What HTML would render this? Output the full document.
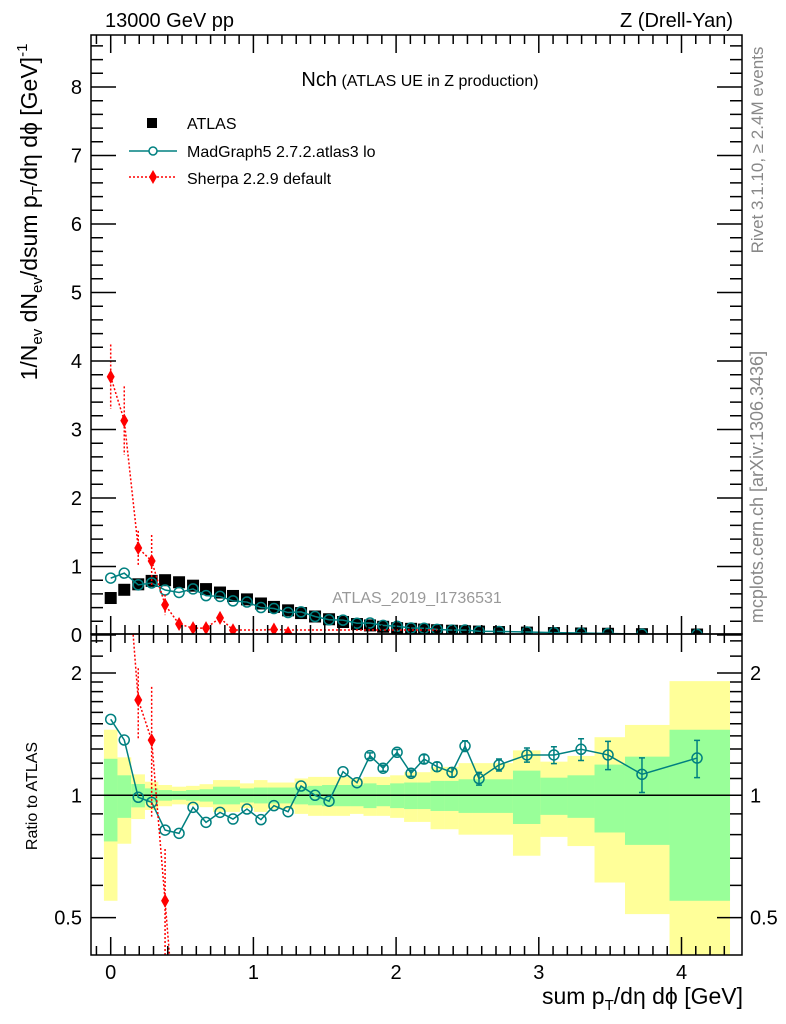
<!DOCTYPE html>
<html><head><meta charset="utf-8"><style>
html,body{margin:0;padding:0;background:#fff;overflow:hidden;width:786px;height:1024px;}
svg{display:block;font-family:"Liberation Sans",sans-serif;}
</style></head><body>
<svg id="c" width="786" height="1024" viewBox="0 0 786 1024" xmlns="http://www.w3.org/2000/svg">
<text x="105" y="27" font-size="20">13000 GeV pp</text>
<text x="733" y="27" font-size="20" text-anchor="end">Z (Drell-Yan)</text>
<text x="420" y="86" text-anchor="middle"><tspan font-size="20">Nch</tspan><tspan font-size="16"> (ATLAS UE in Z production)</tspan></text>
<text x="417" y="603" font-size="16" fill="#999" text-anchor="middle">ATLAS_2019_I1736531</text>
<text transform="translate(763,150) rotate(-90)" font-size="17" fill="#888" text-anchor="middle">Rivet 3.1.10, ≥ 2.4M events</text>
<text transform="translate(763,487) rotate(-90)" font-size="18" fill="#888" text-anchor="middle">mcplots.cern.ch [arXiv:1306.3436]</text>
<text transform="translate(37,212) rotate(-90)" font-size="23" text-anchor="middle">1/N<tspan font-size="15" dy="5">ev</tspan><tspan dy="-5"> dN</tspan><tspan font-size="15" dy="5">ev</tspan><tspan dy="-5">/dsum p</tspan><tspan font-size="15" dy="5">T</tspan><tspan dy="-5">/dη dϕ  [GeV]</tspan><tspan font-size="15" dy="-10">-1</tspan></text>
<text transform="translate(37,796) rotate(-90)" font-size="16" text-anchor="middle">Ratio to ATLAS</text>
<text x="743" y="1004" font-size="23" text-anchor="end">sum p<tspan font-size="15" dy="6">T</tspan><tspan dy="-6">/dη dϕ [GeV]</tspan></text>
<g>
<rect x="147" y="118" width="10" height="10" fill="#000"/>
<text x="187" y="129" font-size="16">ATLAS</text>
<line x1="129" y1="151" x2="177" y2="151" stroke="#008080" stroke-width="1.5"/>
<circle cx="153" cy="151" r="4" fill="#fff" stroke="#008080" stroke-width="1.5"/>
<text x="187" y="157" font-size="16">MadGraph5 2.7.2.atlas3 lo</text>
<line x1="129" y1="177" x2="177" y2="177" stroke="red" stroke-width="1.5" stroke-dasharray="2,2"/>
<path d="M153 170 L157 177 L153 184 L149 177 Z" fill="red"/>
<text x="187" y="184" font-size="16">Sherpa 2.2.9 default</text>
</g>
<g id="g"></g>
</svg>
<script>
const xVals=[0,0.095,0.193,0.287,0.381,0.479,0.577,0.668,0.766,0.857,0.955,1.053,1.144,1.243,1.334,1.432,1.530,1.628,1.726,1.817,1.909,2.007,2.105,2.196,2.287,2.392,2.483,2.581,2.721,2.917,3.106,3.296,3.485,3.723,4.109];
const atlasVals=[0.54,0.66,0.74,0.79,0.80,0.77,0.72,0.67,0.62,0.57,0.52,0.46,0.41,0.36,0.32,0.27,0.23,0.19,0.16,0.14,0.12,0.10,0.09,0.08,0.07,0.062,0.055,0.05,0.043,0.035,0.028,0.022,0.018,0.012,0.007];
const greenErr=[0.23,0.12,0.066,0.04,0.03,0.025,0.03,0.035,0.05,0.05,0.04,0.045,0.045,0.045,0.05,0.055,0.06,0.06,0.06,0.07,0.06,0.07,0.075,0.075,0.085,0.085,0.095,0.095,0.095,0.15,0.105,0.12,0.19,0.245,0.45];
const yellowErr=[0.45,0.24,0.126,0.08,0.06,0.05,0.055,0.065,0.09,0.09,0.07,0.09,0.075,0.075,0.10,0.11,0.11,0.11,0.10,0.11,0.11,0.12,0.14,0.14,0.175,0.175,0.2,0.2,0.2,0.29,0.21,0.25,0.39,0.49,0.91];
const mgRatio=[1.538,1.368,0.989,0.961,0.821,0.806,0.934,0.858,0.908,0.874,0.925,0.871,0.943,0.911,1.054,1.0,0.967,1.143,1.074,1.252,1.166,1.276,1.133,1.228,1.176,1.139,1.322,1.099,1.188,1.257,1.257,1.298,1.257,1.126,1.235];
const mgRatioErr=[0.01,0.01,0.01,0.01,0.01,0.01,0.01,0.01,0.01,0.01,0.01,0.01,0.01,0.01,0.01,0.01,0.01,0.01,0.01,0.02,0.02,0.02,0.02,0.03,0.03,0.03,0.04,0.04,0.04,0.05,0.06,0.08,0.1,0.11,0.13];
const sherpaVals=[3.77,3.13,1.27,1.08,0.44,0.16,0.10,0.10,0.25,0.07,0,0,0.08,0.03,0,0,0,0,0,0,0,0,0,0,0];
const sherpaErr=[0.47,0.5,0.25,0.38,0.15,0.05,0.03,0.03,0.08,0.03,0,0,0.04,0.02,0,0,0,0,0,0,0,0,0,0,0];
const mainYTicks=[0,1,2,3,4,5,6,7,8];
const ratioYTicks=[0.5,1,2];
const xTicks=[0,1,2,3,4];
const xLast=4.34;

const L=91,R=742,T=35,MB=634,RB=955;
const X=v=>110.7+v*142.7;
const Y=v=>635-v*68.5;
const YR=r=>795.3-122.3*Math.log2(r);
const NS="http://www.w3.org/2000/svg";
const g=document.getElementById('g');
function mk(tag,at,parent){const e=document.createElementNS(NS,tag);for(const k in at)e.setAttribute(k,at[k]);(parent||g).appendChild(e);return e;}
const defs=mk('defs',{});
const c1=mk('clipPath',{id:'cm'},defs);mk('rect',{x:L,y:T,width:R-L,height:MB-T},c1);
const c2=mk('clipPath',{id:'cr'},defs);mk('rect',{x:L,y:MB,width:R-L,height:RB-MB},c2);
const gm=mk('g',{'clip-path':'url(#cm)'});


const gr=mk('g',{'clip-path':'url(#cr)'});


const edges=[];
for(let i=0;i<xVals.length;i++){edges.push(i==0?xVals[0]-(xVals[1]-xVals[0])/2:(xVals[i-1]+xVals[i])/2);}
edges.push(xLast);
for(let i=0;i<xVals.length;i++){
  const x1=X(edges[i]),x2=X(edges[i+1]);
  const yTop=YR(1+yellowErr[i]),yBot=YR(Math.max(1-yellowErr[i],0.01));
  const b1=mk('rect',{x:x1,y:yTop,width:x2-x1,height:yBot-yTop,fill:'#ffff99'},gr);
  
  
  const gT=YR(1+greenErr[i]),gB=YR(1-greenErr[i]);
  const b2=mk('rect',{x:x1,y:gT,width:x2-x1,height:gB-gT,fill:'#99ff99'},gr);
  
  
}
const one=mk('line',{x1:L,x2:R,y1:YR(1),y2:YR(1),stroke:'#000','stroke-width':1.5},gr);


xVals.forEach((x,i)=>{
  const r=mk('rect',{x:X(x)-6,y:Y(atlasVals[i])-6,width:12,height:12,fill:'#000'},gm);
  
  
});
const mgMain=xVals.map((x,i)=>atlasVals[i]*mgRatio[i]);
const p1=mk('polyline',{points:xVals.map((x,i)=>X(x)+','+Y(mgMain[i])).join(' '),fill:'none',stroke:'#008080','stroke-width':1.5},gm);


const p2=mk('polyline',{points:xVals.map((x,i)=>X(x)+','+YR(mgRatio[i])).join(' '),fill:'none',stroke:'#008080','stroke-width':1.5},gr);


xVals.forEach((x,i)=>{
  const c=mk('circle',{cx:X(x),cy:Y(mgMain[i]),r:5,fill:'none',stroke:'#008080','stroke-width':1.5},gm);
  
  
  const e=mgRatioErr[i];
  if(e>0.015){
    const y1=YR(mgRatio[i]+e),y2=YR(mgRatio[i]-e),cx=X(x);
    const eb=mk('path',{d:`M${cx},${y1}V${y2}M${cx-3},${y1}H${cx+3}M${cx-3},${y2}H${cx+3}`,stroke:'#008080','stroke-width':1.5,fill:'none'},gr);
    
    
  }
  const c2=mk('circle',{cx:X(x),cy:YR(mgRatio[i]),r:5,fill:'none',stroke:'#008080','stroke-width':1.5},gr);
  
  
});
const sx=xVals.slice(0,sherpaVals.length);
const sRatio=sherpaVals.map((v,i)=>Math.max(v,0.001)/atlasVals[i]);
const s1=mk('polyline',{points:sx.map((x,i)=>X(x)+','+Math.min(Y(sherpaVals[i]),630)).join(' '),fill:'none',stroke:'red','stroke-width':1.5,'stroke-dasharray':'2,2'},gm);


const s2=mk('polyline',{points:sx.slice(0,6).map((x,i)=>X(x)+','+YR(sRatio[i])).join(' '),fill:'none',stroke:'red','stroke-width':1.5,'stroke-dasharray':'2,2'},gr);


sx.forEach((x,i)=>{
  if(sherpaVals[i]<=0)return;
  const cx=X(x),cy=Y(sherpaVals[i]),e=sherpaErr[i];
  if(e>0){
    const eb=mk('line',{x1:cx,x2:cx,y1:Y(sherpaVals[i]+e),y2:Y(sherpaVals[i]-e),stroke:'red','stroke-width':1.5,'stroke-dasharray':'2,2'},gm);
    
    
  }
  const d=mk('path',{d:`M${cx},${cy-7}L${cx+4},${cy}L${cx},${cy+7}L${cx-4},${cy}Z`,fill:'red'},gm);
  
  
  if(i<5){
    const rr=sRatio[i],re=e/atlasVals[i];
    const eb2=mk('line',{x1:cx,x2:cx,y1:YR(rr+re),y2:YR(Math.max(rr-re,0.01)),stroke:'red','stroke-width':1.5,'stroke-dasharray':'2,2'},gr);
    
    
    const ry=YR(rr);
    const d2=mk('path',{d:`M${cx},${ry-7}L${cx+4},${ry}L${cx},${ry+7}L${cx-4},${ry}Z`,fill:'red'},gr);
    
    
  }
});
const f1=mk('rect',{x:L,y:T,width:R-L,height:MB-T,fill:'none',stroke:'#000','stroke-width':1.5});


const f2=mk('rect',{x:L,y:MB,width:R-L,height:RB-MB,fill:'none',stroke:'#000','stroke-width':1.5});


let tp='';
for(let k=-1;k<=43;k++){const v=k/10;const x=X(v);if(x<L||x>R)continue;const big=k%10==0;const len=big?18:9;
  tp+=`M${x},${RB}v${-len}M${x},${MB}v${len}M${x},${T}v${len}M${x},${MB}v${-len}`;}
for(let k=0;k<=43;k++){const v=k/5;const y=Y(v);if(y<T)break;const big=k%5==0;const len=big?25:12;
  tp+=`M${L},${y}h${len}M${R},${y}h${-len}`;}
[0.4,0.5,0.6,0.7,0.8,0.9,1,1.1,1.2,1.3,1.4,1.5,1.6,1.7,1.8,1.9,2,2.2,2.4].forEach(v=>{const y=YR(v);if(y<MB||y>RB)return;const big=[0.5,1,2].includes(v);const len=big?25:12;
  tp+=`M${L},${y}h${len}M${R},${y}h${-len}`;});
const tk=mk('path',{d:tp,stroke:'#000','stroke-width':1.5,fill:'none'});


mainYTicks.forEach(v=>{
  const t=mk('text',{x:82,y:Y(v)+7,'font-size':20,'text-anchor':'end'});t.textContent=v;
  
  
});
ratioYTicks.forEach(v=>{
  const t=mk('text',{x:82,y:YR(v)+7,'font-size':20,'text-anchor':'end'});t.textContent=v;
  
  
  const t2=mk('text',{x:750,y:YR(v)+7,'font-size':20});t2.textContent=v;
  
  
});
xTicks.forEach(v=>{
  const t=mk('text',{x:X(v),y:979,'font-size':20,'text-anchor':'middle'});t.textContent=v;
  
  
});
</script>
</body></html>
